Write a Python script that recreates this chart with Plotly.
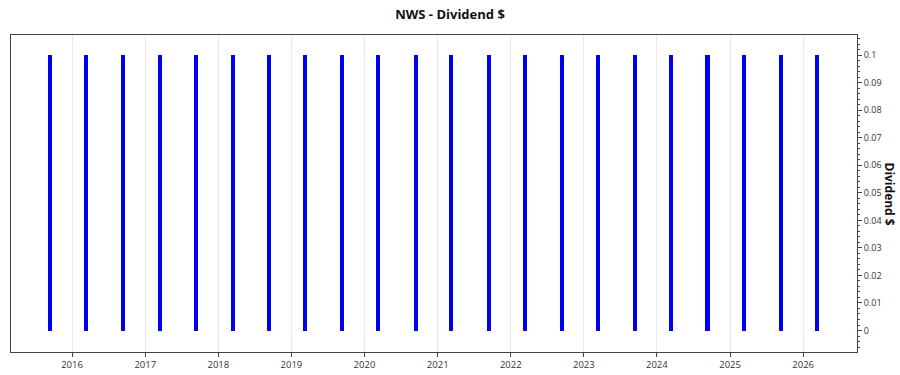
import plotly.graph_objects as go
import pandas as pd

# Data
ex_dates = [
    "2015-09-14", "2016-03-09", "2016-09-12", "2017-03-14", "2017-09-12",
    "2018-03-13", "2018-09-11", "2019-03-12", "2019-09-10", "2020-03-10",
    "2020-09-15", "2021-03-09", "2021-09-14", "2022-03-15", "2022-09-13",
    "2023-03-14", "2023-09-12", "2024-03-12", "2024-09-10", "2025-03-11",
    "2025-09-10", "2026-03-10",
]
dividends = [0.1] * len(ex_dates)
y_ticks = [0, 0.01, 0.02, 0.03, 0.04, 0.05, 0.06, 0.07, 0.08, 0.09, 0.1]
y_tick_labels = ["0", "0.01", "0.02", "0.03", "0.04", "0.05", "0.06", "0.07", "0.08", "0.09", "0.1"]

dates = pd.to_datetime(ex_dates)
bar_width_ms = 20 * 24 * 3600 * 1000

fig = go.Figure()
fig.add_trace(go.Bar(
    x=dates, y=dividends, width=bar_width_ms,
    marker=dict(color="#0000F0", line=dict(width=0)),
    showlegend=False,
))

font_family = "Open Sans, Noto Sans, DejaVu Sans, sans-serif"

fig.update_layout(
    width=900, height=375,
    margin=dict(l=11, r=43, t=35, b=23),
    paper_bgcolor="white", plot_bgcolor="white",
    font=dict(family=font_family, size=9, color="#333"),
    title=dict(text="<b>NWS - Dividend $</b>", x=0.5, xanchor="center",
               y=1 - 14 / 375, yanchor="middle",
               font=dict(size=13, color="#111", family=font_family)),
    bargap=0,
)

fig.update_xaxes(
    type="date",
    automargin=False,
    range=["2015-03-02", "2026-09-27"],
    dtick="M12", tick0="2016-01-01", tickformat="%Y",
    showgrid=True, gridcolor="#e8e8e8", gridwidth=1,
    ticks="outside", ticklen=4, tickcolor="#444",
    showline=True, linecolor="#444", linewidth=1, mirror=True,
    tickfont=dict(size=9.5, color="#333"),
    zeroline=False,
)
fig.update_yaxes(
    side="right",
    automargin=False,
    range=[-0.0078, 0.1073],
    tickvals=y_ticks, ticktext=y_tick_labels,
    showgrid=False,
    ticks="outside", ticklen=4, tickcolor="#444",
    minor=dict(dtick=0.002, tick0=0, ticks="outside", ticklen=2, tickcolor="#444", showgrid=False),
    showline=True, linecolor="#444", linewidth=1, mirror=True,
    tickfont=dict(size=9, color="#333"),
    zeroline=False,
)

fig.add_annotation(
    text="<b>Dividend $</b>", textangle=90,
    xref="paper", yref="paper", x=1, y=0.5,
    xanchor="center", yanchor="middle", xshift=32,
    showarrow=False, font=dict(size=12, color="#111", family=font_family),
)

fig.write_html("out.html")
